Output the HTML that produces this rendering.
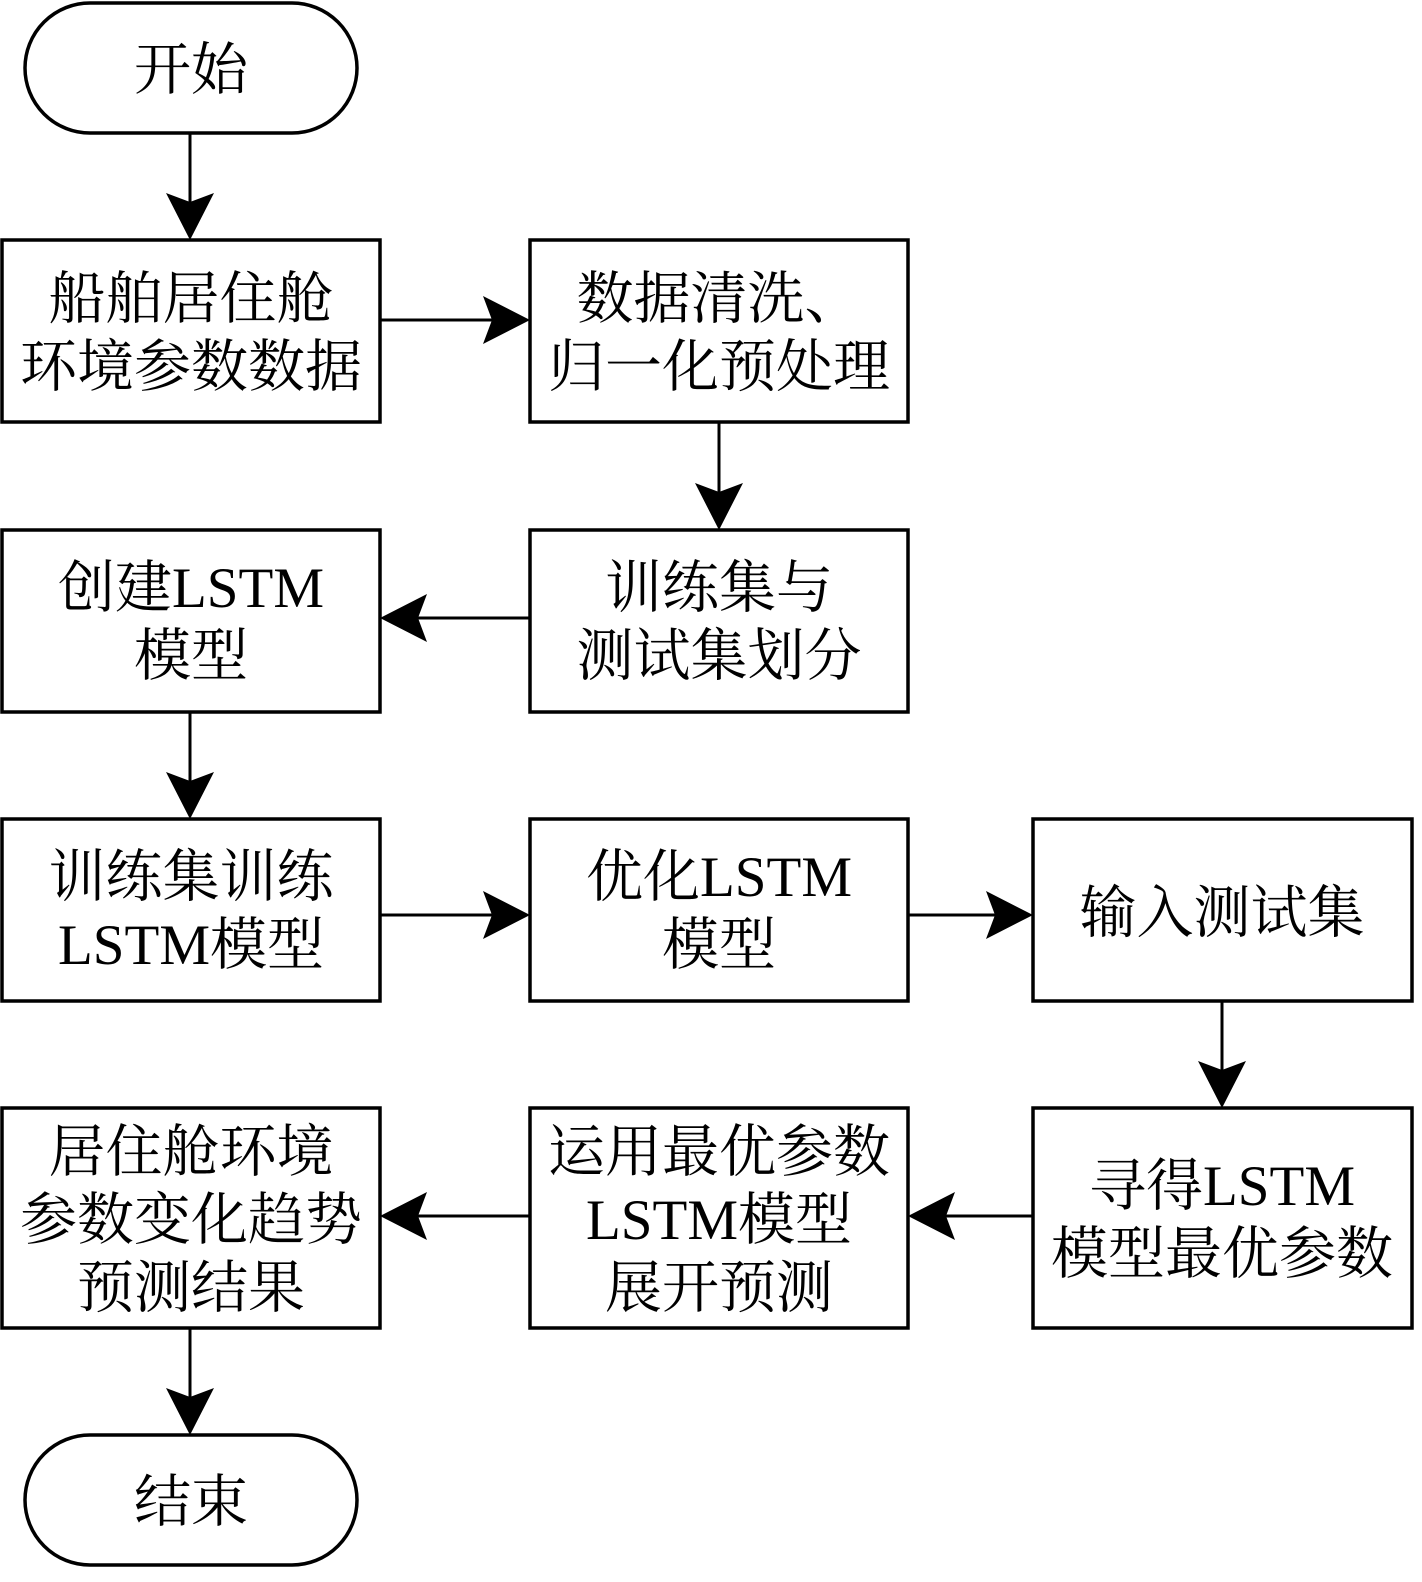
<!DOCTYPE html>
<html><head><meta charset="utf-8"><style>
html,body{margin:0;padding:0;background:#fff}
svg text{font-family:"Liberation Serif","Noto Serif CJK SC",serif;font-size:57px;fill:#000;text-anchor:middle}
</style></head><body>
<svg width="1422" height="1577" viewBox="0 0 1422 1577" xmlns="http://www.w3.org/2000/svg">
<defs>
<path id="ah" d="M0,0 L-47,-24 L-38,0 L-47,24 Z" fill="#000"/>
</defs>
<g fill="none" stroke="#000" stroke-width="3.5">
<rect x="25" y="3" width="332" height="130" rx="65"/>
<rect x="25" y="1435" width="332" height="130" rx="65"/>
<rect x="2" y="240" width="378" height="182"/>
<rect x="530" y="240" width="378" height="182"/>
<rect x="2" y="530" width="378" height="182"/>
<rect x="530" y="530" width="378" height="182"/>
<rect x="2" y="819" width="378" height="182"/>
<rect x="530" y="819" width="378" height="182"/>
<rect x="1033" y="819" width="379" height="182"/>
<rect x="2" y="1108" width="378" height="220"/>
<rect x="530" y="1108" width="378" height="220"/>
<rect x="1033" y="1108" width="379" height="220"/>
<g stroke-width="3">
<line x1="190" y1="133" x2="190" y2="205"/>
<line x1="380" y1="320" x2="495" y2="320"/>
<line x1="719" y1="422" x2="719" y2="495"/>
<line x1="530" y1="618" x2="415" y2="618"/>
<line x1="190" y1="712" x2="190" y2="785"/>
<line x1="380" y1="915" x2="495" y2="915"/>
<line x1="908" y1="915" x2="998" y2="915"/>
<line x1="1222" y1="1001" x2="1222" y2="1073"/>
<line x1="1033" y1="1216" x2="943" y2="1216"/>
<line x1="530" y1="1216" x2="415" y2="1216"/>
<line x1="190" y1="1328" x2="190" y2="1400"/>
</g>
</g>
<use href="#ah" transform="translate(190,240) rotate(90)"/>
<use href="#ah" transform="translate(530,320)"/>
<use href="#ah" transform="translate(719,530) rotate(90)"/>
<use href="#ah" transform="translate(380,618) rotate(180)"/>
<use href="#ah" transform="translate(190,819) rotate(90)"/>
<use href="#ah" transform="translate(530,915)"/>
<use href="#ah" transform="translate(1033,915)"/>
<use href="#ah" transform="translate(1222,1108) rotate(90)"/>
<use href="#ah" transform="translate(908,1216) rotate(180)"/>
<use href="#ah" transform="translate(380,1216) rotate(180)"/>
<use href="#ah" transform="translate(190,1435) rotate(90)"/>
<text x="191" y="89">开始</text>
<text x="191" y="1521">结束</text>
<text x="191" y="318">船舶居住舱</text>
<text x="191" y="386">环境参数数据</text>
<text x="719" y="318">数据清洗、</text>
<text x="719" y="386">归一化预处理</text>
<text x="191" y="607">创建LSTM</text>
<text x="191" y="675">模型</text>
<text x="719" y="607">训练集与</text>
<text x="719" y="675">测试集划分</text>
<text x="191" y="896">训练集训练</text>
<text x="191" y="964">LSTM模型</text>
<text x="719" y="896">优化LSTM</text>
<text x="719" y="964">模型</text>
<text x="1222" y="932">输入测试集</text>
<text x="191" y="1171">居住舱环境</text>
<text x="191" y="1239">参数变化趋势</text>
<text x="191" y="1307">预测结果</text>
<text x="719" y="1171">运用最优参数</text>
<text x="719" y="1239">LSTM模型</text>
<text x="719" y="1307">展开预测</text>
<text x="1222" y="1205">寻得LSTM</text>
<text x="1222" y="1273">模型最优参数</text>
</svg>
</body></html>
